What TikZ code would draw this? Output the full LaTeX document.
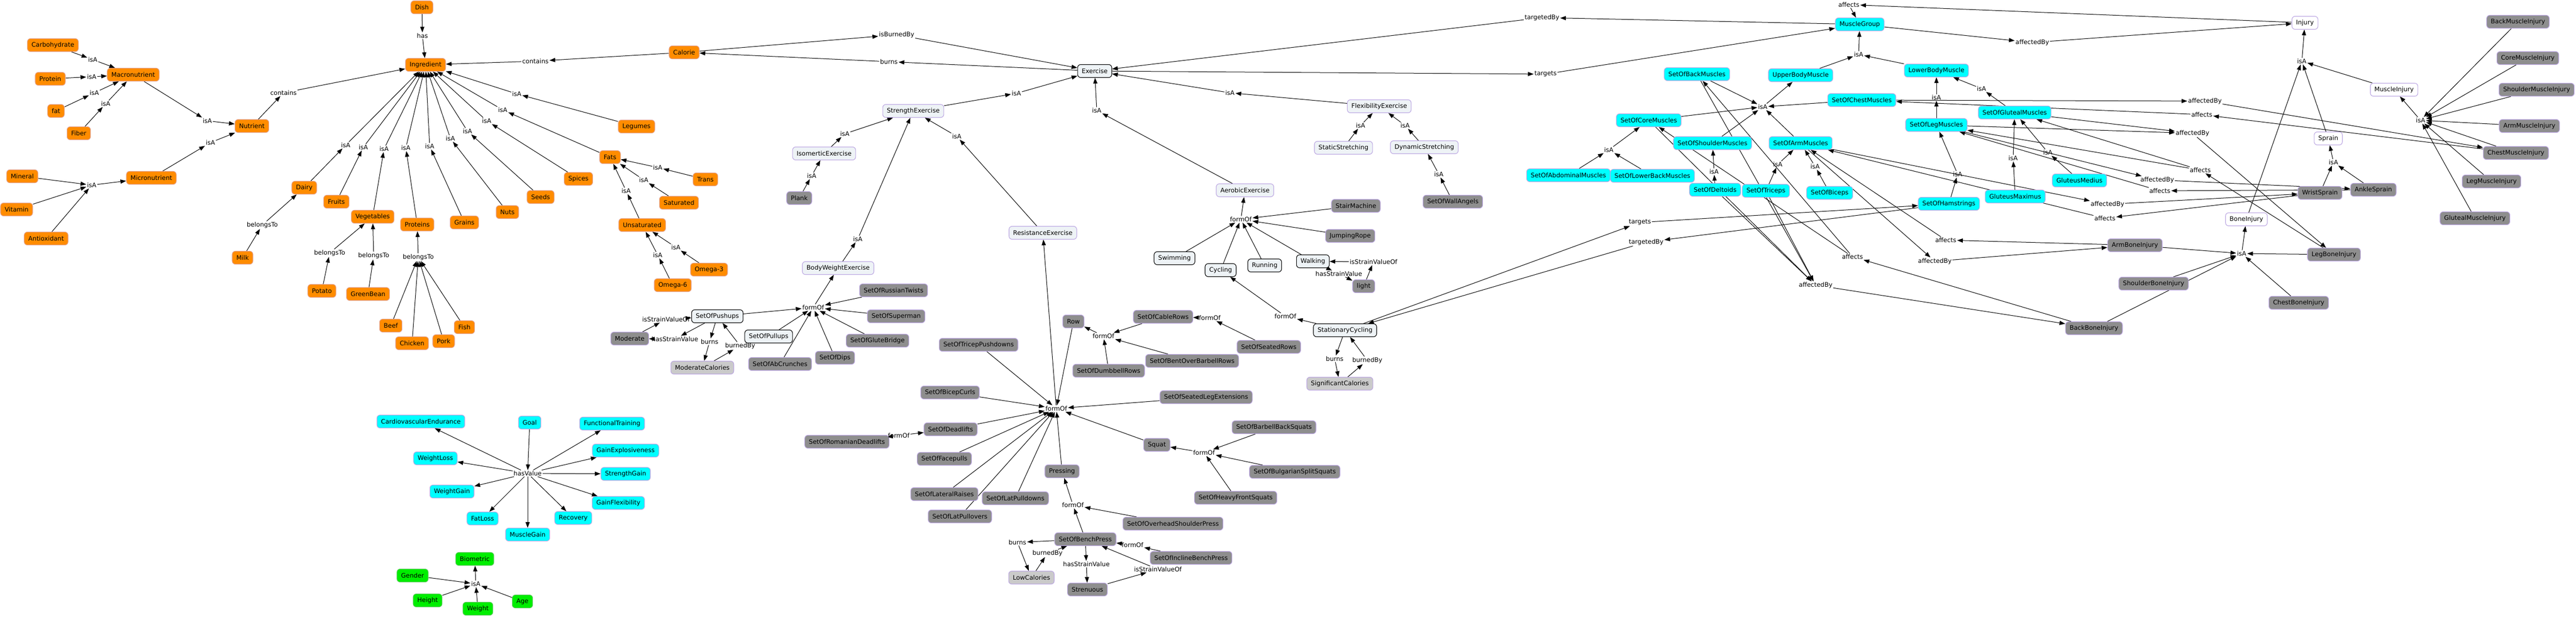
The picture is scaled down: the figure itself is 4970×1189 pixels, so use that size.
\documentclass[tikz,border=0pt]{standalone}
\usepackage{fontspec}
\setmainfont{DejaVu Sans}
\usetikzlibrary{arrows.meta}
\pgfdeclarelayer{paper}
\pgfdeclarelayer{bg}
\pgfsetlayers{paper,bg,main}
\definecolor{foodc}{HTML}{FF8C00}
\definecolor{foodb}{HTML}{E3A08C}
\definecolor{cyanc}{HTML}{00FFFF}
\definecolor{purb}{HTML}{BBA6E2}
\definecolor{greenc}{HTML}{00EE00}
\definecolor{greenb}{HTML}{5CC85C}
\definecolor{grayc}{HTML}{8E8E8E}
\definecolor{lgrayc}{HTML}{CACACA}
\definecolor{classc}{HTML}{EEF3F6}
\tikzset{
 box/.style={rounded corners=6pt, draw, line width=1.1pt, minimum height=25pt, inner xsep=8pt, inner ysep=3pt, font=\fontsize{12}{14}\selectfont, text=black},
 food/.style={box, fill=foodc, draw=foodb},
 cy/.style={box, fill=cyanc, draw=purb},
 gr/.style={box, fill=greenc, draw=greenb},
 gy/.style={box, fill=grayc, draw=purb},
 lg/.style={box, fill=lgrayc, draw=purb},
 cl/.style={box, fill=classc, draw=purb},
 cb/.style={box, fill=classc, draw=black},
 wh/.style={box, fill=white, draw=purb},
 lbl/.style={inner sep=1.5pt, font=\fontsize{12}{14}\selectfont},
 arr/.style={-{Triangle[length=11pt,width=8pt]}, line width=1pt}
}
\newcommand\myE[2]{\draw[arr] (#1) -- (#2);}
\newcommand\myR[3]{\draw[arr] (#1) -- (#2);\draw[arr] (#2) -- (#3);}
\begin{document}
\begin{tikzpicture}[x=1pt,y=-1pt]
\begin{pgfonlayer}{paper}
\fill[white] (0,0) rectangle (4970,1189);
\end{pgfonlayer}
\useasboundingbox (0,0) rectangle (4970,1189);
% ---------- food ----------
\node[food] (carb) at (102,87) {Carbohydrate};
\node[food] (protein) at (97,152) {Protein};
\node[food] (macro) at (257,144) {Macronutrient};
\node[food] (fat) at (108,214) {fat};
\node[food] (fiber) at (152,257) {Fiber};
\node[food] (nutrient) at (486,243) {Nutrient};
\node[food] (mineral) at (43,340) {Mineral};
\node[food] (vitamin) at (32,404) {Vitamin};
\node[food] (antiox) at (89,460) {Antioxidant};
\node[food] (micro) at (292,343) {Micronutrient};
\node[food] (dish) at (814,14) {Dish};
\node[food] (ingredient) at (821,125) {Ingredient};
\node[food] (calorie) at (1320,101) {Calorie};
\node[food] (legumes) at (1228,244) {Legumes};
\node[food] (fats) at (1177,303) {Fats};
\node[food] (spices) at (1116,345) {Spices};
\node[food] (seeds) at (1043,380) {Seeds};
\node[food] (nuts) at (979,409) {Nuts};
\node[food] (grains) at (896,429) {Grains};
\node[food] (proteins) at (805,433) {Proteins};
\node[food] (vegetables) at (719,418) {Vegetables};
\node[food] (fruits) at (649,389) {Fruits};
\node[food] (dairy) at (587,362) {Dairy};
\node[food] (milk) at (468,497) {Milk};
\node[food] (potato) at (621,561) {Potato};
\node[food] (greenbean) at (710,567) {GreenBean};
\node[food] (beef) at (754,628) {Beef};
\node[food] (chicken) at (795,662) {Chicken};
\node[food] (pork) at (856,658) {Pork};
\node[food] (fish) at (896,631) {Fish};
\node[food] (trans) at (1361,346) {Trans};
\node[food] (saturated) at (1310,391) {Saturated};
\node[food] (unsaturated) at (1239,434) {Unsaturated};
\node[food] (omega3) at (1368,520) {Omega-3};
\node[food] (omega6) at (1298,550) {Omega-6};
\node[lbl] (lcarb) at (179,115) {isA};
\node[lbl] (lprot) at (177,148) {isA};
\node[lbl] (lfat) at (182,179) {isA};
\node[lbl] (lfiber) at (204,200) {isA};
\node[lbl] (lmacro) at (400,233) {isA};
\node[lbl] (lmicro) at (406,275) {isA};
\node[lbl] (lmin) at (177,357) {isA};
\node[lbl] (lcontN) at (547,179) {contains};
\node[lbl] (lhas) at (815,69) {has};
\node[lbl] (lcontC) at (1033,118) {contains};
\node[lbl] (ldairy) at (667,280) {isA};
\node[lbl] (lfruits) at (701,284) {isA};
\node[lbl] (lveg) at (741,287) {isA};
\node[lbl] (lprots) at (783,285) {isA};
\node[lbl] (lgrains) at (829,282) {isA};
\node[lbl] (lnuts) at (869,267) {isA};
\node[lbl] (lseeds) at (902,253) {isA};
\node[lbl] (lspices) at (939,233) {isA};
\node[lbl] (lfats) at (970,212) {isA};
\node[lbl] (llegumes) at (997,181) {isA};
\node[lbl] (lmilk) at (506,434) {belongsTo};
\node[lbl] (lpot) at (636,488) {belongsTo};
\node[lbl] (lgb) at (721,493) {belongsTo};
\node[lbl] (lmeat) at (807,496) {belongsTo};
\node[lbl] (ltrans) at (1269,323) {isA};
\node[lbl] (lsat) at (1242,347) {isA};
\node[lbl] (lunsat) at (1208,368) {isA};
\node[lbl] (lo3) at (1304,477) {isA};
\node[lbl] (lo6) at (1269,492) {isA};
% ---------- goals / biometrics ----------
\node[cy] (goal) at (1022,815) {Goal};
\node[cy] (cardio) at (812,813) {CardiovascularEndurance};
\node[cy] (functional) at (1181,817) {FunctionalTraining};
\node[cy] (weightloss) at (840,884) {WeightLoss};
\node[cy] (gainexp) at (1207,869) {GainExplosiveness};
\node[cy] (strengthgain) at (1207,914) {StrengthGain};
\node[cy] (weightgain) at (872,948) {WeightGain};
\node[cy] (gainflex) at (1193,970) {GainFlexibility};
\node[cy] (fatloss) at (931,1000) {FatLoss};
\node[cy] (recovery) at (1106,999) {Recovery};
\node[cy] (musclegain) at (1018,1031) {MuscleGain};
\node[lbl] (lhv) at (1018,913) {hasValue};
\node[gr] (biometric) at (916,1078) {Biometric};
\node[gr] (gender) at (796,1110) {Gender};
\node[gr] (height) at (825,1158) {Height};
\node[gr] (weight) at (922,1174) {Weight};
\node[gr] (age) at (1008,1160) {Age};
\node[lbl] (lbio) at (918,1126) {isA};
% ---------- exercise ----------
\node[cb] (exercise) at (2112,137) {Exercise};
\node[cl] (strength) at (1762,214) {StrengthExercise};
\node[cl] (iso) at (1590,296) {IsomerticExercise};
\node[gy] (plank) at (1542,382) {Plank};
\node[cl] (bwe) at (1617,517) {BodyWeightExercise};
\node[cl] (resistance) at (2012,449) {ResistanceExercise};
\node[cl] (aerobic) at (2402,367) {AerobicExercise};
\node[cl] (flex) at (2661,205) {FlexibilityExercise};
\node[cl] (static) at (2592,285) {StaticStretching};
\node[cl] (dynamic) at (2748,284) {DynamicStretching};
\node[gy] (wallangels) at (2803,389) {SetOfWallAngels};
\node[cb] (swimming) at (2266,498) {Swimming};
\node[cb] (cycling) at (2355,521) {Cycling};
\node[cb] (running) at (2440,512) {Running};
\node[cb] (walking) at (2533,504) {Walking};
\node[gy] (stair) at (2616,397) {StairMachine};
\node[gy] (jumping) at (2605,455) {JumpingRope};
\node[gy] (light) at (2631,552) {light};
\node[cb] (stationary) at (2595,637) {StationaryCycling};
\node[lg] (sigcal) at (2585,740) {SignificantCalories};
\node[cb] (pushups) at (1384,610) {SetOfPushups};
\node[gy] (moderate) at (1215,653) {Moderate};
\node[lg] (modcal) at (1355,709) {ModerateCalories};
\node[cb] (pullups) at (1483,649) {SetOfPullups};
\node[gy] (abcrunch) at (1505,702) {SetOfAbCrunches};
\node[gy] (dips) at (1611,690) {SetOfDips};
\node[gy] (glute) at (1693,657) {SetOfGluteBridge};
\node[gy] (superman) at (1729,610) {SetOfSuperman};
\node[gy] (russian) at (1724,560) {SetOfRussianTwists};
\node[gy] (tricep) at (1888,665) {SetOfTricepPushdowns};
\node[gy] (row) at (2071,620) {Row};
\node[gy] (cablerows) at (2244,611) {SetOfCableRows};
\node[gy] (seatedrows) at (2448,669) {SetOfSeatedRows};
\node[gy] (bentover) at (2300,696) {SetOfBentOverBarbellRows};
\node[gy] (dumbbell) at (2139,715) {SetOfDumbbellRows};
\node[gy] (bicep) at (1833,757) {SetOfBicepCurls};
\node[gy] (legext) at (2327,766) {SetOfSeatedLegExtensions};
\node[gy] (deadlifts) at (1834,828) {SetOfDeadlifts};
\node[gy] (romanian) at (1634,852) {SetOfRomanianDeadlifts};
\node[gy] (facepulls) at (1822,885) {SetOfFacepulls};
\node[gy] (squat) at (2232,858) {Squat};
\node[gy] (barbellsq) at (2458,824) {SetOfBarbellBackSquats};
\node[gy] (bulgarian) at (2498,910) {SetOfBulgarianSplitSquats};
\node[gy] (heavyfront) at (2384,960) {SetOfHeavyFrontSquats};
\node[gy] (pressing) at (2049,909) {Pressing};
\node[gy] (lateral) at (1822,953) {SetOfLateralRaises};
\node[gy] (latpulldowns) at (1959,961) {SetOfLatPulldowns};
\node[gy] (latpullovers) at (1852,996) {SetOfLatPullovers};
\node[gy] (overhead) at (2263,1010) {SetOfOverheadShoulderPress};
\node[gy] (bench) at (2094,1040) {SetOfBenchPress};
\node[gy] (incline) at (2298,1076) {SetOfInclineBenchPress};
\node[lg] (lowcal) at (1990,1114) {LowCalories};
\node[gy] (strenuous) at (2098,1137) {Strenuous};
\node[lbl] (lburnsEx) at (1715,119) {burns};
\node[lbl] (lisburned) at (1730,67) {isBurnedBy};
\node[lbl] (lstrEx) at (1961,180) {isA};
\node[lbl] (laerEx) at (2116,213) {isA};
\node[lbl] (lflexEx) at (2373,179) {isA};
\node[lbl] (liso) at (1630,258) {isA};
\node[lbl] (lplank) at (1566,339) {isA};
\node[lbl] (lbwe) at (1655,461) {isA};
\node[lbl] (lres) at (1846,263) {isA};
\node[lbl] (lbwhub) at (1569,593) {formOf};
\node[lbl] (lbighub) at (2038,788) {formOf};
\node[lbl] (laerhub) at (2394,423) {formOf};
\node[lbl] (lstatic) at (2625,242) {isA};
\node[lbl] (ldyn) at (2711,242) {isA};
\node[lbl] (lwall) at (2776,336) {isA};
\node[lbl] (lwalkHSV) at (2583,528) {hasStrainValue};
\node[lbl] (lwalkISV) at (2650,505) {isStrainValueOf};
\node[lbl] (lstatForm) at (2480,610) {formOf};
\node[lbl] (lstatBurns) at (2575,692) {burns};
\node[lbl] (lstatBurned) at (2638,695) {burnedBy};
\node[lbl] (lstatTargets) at (3164,429) {targets};
\node[lbl] (lstatTargetedBy) at (3176,467) {targetedBy};
\node[lbl] (lpushISV) at (1285,616) {isStrainValueOf};
\node[lbl] (lpushHSV) at (1302,654) {hasStrainValue};
\node[lbl] (lpushBurns) at (1369,659) {burns};
\node[lbl] (lpushBurned) at (1428,667) {burnedBy};
\node[lbl] (lrowhub) at (2129,648) {formOf};
\node[lbl] (lcableForm) at (2334,613) {formOf};
\node[lbl] (lromForm) at (1734,840) {formOf};
\node[lbl] (lsquathub) at (2323,873) {formOf};
\node[lbl] (lpresshub) at (2070,974) {formOf};
\node[lbl] (lbenchBurns) at (1963,1046) {burns};
\node[lbl] (lbenchBurned) at (2021,1067) {burnedBy};
\node[lbl] (linclineForm) at (2185,1051) {formOf};
\node[lbl] (lbenchHSV) at (2096,1088) {hasStrainValue};
\node[lbl] (lbenchISV) at (2234,1098) {isStrainValueOf};
\node[lbl] (lexTargets) at (2982,143) {targets};
\node[lbl] (lexTargetedBy) at (2975,34) {targetedBy};
% ---------- muscles ----------
\node[cy] (musclegroup) at (3588,47) {MuscleGroup};
\node[cy] (upper) at (3474,145) {UpperBodyMuscle};
\node[cy] (lower) at (3736,136) {LowerBodyMuscle};
\node[cy] (back) at (3274,143) {SetOfBackMuscles};
\node[cy] (chest) at (3592,193) {SetOfChestMuscles};
\node[cy] (gluteal) at (3887,217) {SetOfGlutealMuscles};
\node[cy] (core) at (3181,232) {SetOfCoreMuscles};
\node[cy] (leg) at (3736,241) {SetOfLegMuscles};
\node[cy] (shoulder) at (3304,276) {SetOfShoulderMuscles};
\node[cy] (arm) at (3474,276) {SetOfArmMuscles};
\node[cy] (abdominal) at (3026,338) {SetOfAbdominalMuscles};
\node[cy] (lowerback) at (3188,339) {SetOfLowerBackMuscles};
\node[cy] (deltoids) at (3309,366) {SetOfDeltoids};
\node[cy] (triceps) at (3407,368) {SetOfTriceps};
\node[cy] (biceps) at (3530,372) {SetOfBiceps};
\node[cy] (hamstrings) at (3760,393) {SetOfHamstrings};
\node[cy] (gmax) at (3888,379) {GluteusMaximus};
\node[cy] (gmed) at (4012,348) {GluteusMedius};
\node[lbl] (lmgAffects) at (3567,9) {affects};
\node[lbl] (lmgAffectedBy) at (3921,82) {affectedBy};
\node[lbl] (lmgIsA) at (3586,105) {isA};
\node[lbl] (lupperIsA) at (3401,206) {isA};
\node[lbl] (llegIsA) at (3736,188) {isA};
\node[lbl] (lglutIsA) at (3823,171) {isA};
\node[lbl] (lcoreIsA) at (3104,289) {isA};
\node[lbl] (ldeltIsA) at (3307,331) {isA};
\node[lbl] (ltriIsA) at (3430,317) {isA};
\node[lbl] (lbiIsA) at (3502,321) {isA};
\node[lbl] (lhamIsA) at (3777,336) {isA};
\node[lbl] (lgmaxIsA) at (3884,305) {isA};
\node[lbl] (lgmedIsA) at (3951,294) {isA};
% ---------- injuries ----------
\node[wh] (injury) at (4447,44) {Injury};
\node[wh] (muscleinj) at (4619,173) {MuscleInjury};
\node[wh] (sprain) at (4492,267) {Sprain};
\node[wh] (boneinj) at (4334,423) {BoneInjury};
\node[gy] (wrist) at (4476,372) {WristSprain};
\node[gy] (ankle) at (4579,366) {AnkleSprain};
\node[gy] (armbone) at (4119,473) {ArmBoneInjury};
\node[gy] (legbone) at (4503,491) {LegBoneInjury};
\node[gy] (shoulderbone) at (4155,547) {ShoulderBoneInjury};
\node[gy] (chestbone) at (4435,584) {ChestBoneInjury};
\node[gy] (backbone) at (4040,633) {BackBoneInjury};
\node[gy] (backmi) at (4858,42) {BackMuscleInjury};
\node[gy] (coremi) at (4877,112) {CoreMuscleInjury};
\node[gy] (shouldermi) at (4894,173) {ShoulderMuscleInjury};
\node[gy] (armmi) at (4880,243) {ArmMuscleInjury};
\node[gy] (chestmi) at (4854,295) {ChestMuscleInjury};
\node[gy] (legmi) at (4807,350) {LegMuscleInjury};
\node[gy] (glutealmi) at (4775,421) {GlutealMuscleInjury};
\node[lbl] (lchestAffBy) at (4254,195) {affectedBy};
\node[lbl] (lchestAff) at (4248,221) {affects};
\node[lbl] (llegboneAffBy) at (4230,257) {affectedBy};
\node[lbl] (llegboneAff) at (4245,328) {affects};
\node[lbl] (lankleAffBy) at (4162,347) {affectedBy};
\node[lbl] (lankleAff) at (4167,368) {affects};
\node[lbl] (lwristAffBy) at (4066,394) {affectedBy};
\node[lbl] (lwristAff) at (4061,421) {affects};
\node[lbl] (larmboneAff) at (3754,463) {affects};
\node[lbl] (larmboneAffBy) at (3733,504) {affectedBy};
\node[lbl] (lbackboneAff) at (3574,495) {affects};
\node[lbl] (lbackboneAffBy) at (3503,550) {affectedBy};
\node[lbl] (linjIsA) at (4441,118) {isA};
\node[lbl] (lsprainIsA) at (4502,313) {isA};
\node[lbl] (lboneIsA) at (4325,489) {isA};
\node[lbl] (lmInjIsA) at (4670,232) {isA};
% ================= edges =================
\begin{pgfonlayer}{bg}
\myR{carb}{lcarb}{macro}
\myR{protein}{lprot}{macro}
\myR{fat}{lfat}{macro}
\myR{fiber}{lfiber}{macro}
\myR{macro}{lmacro}{nutrient}
\myR{micro}{lmicro}{nutrient}
\foreach \s in {mineral,vitamin,antiox} {\myE{\s}{lmin}}
\myE{lmin}{micro}
\myR{nutrient}{lcontN}{ingredient}
\myR{dish}{lhas}{ingredient}
\myR{calorie}{lcontC}{ingredient}
\myR{dairy}{ldairy}{ingredient}
\myR{fruits}{lfruits}{ingredient}
\myR{vegetables}{lveg}{ingredient}
\myR{proteins}{lprots}{ingredient}
\myR{grains}{lgrains}{ingredient}
\myR{nuts}{lnuts}{ingredient}
\myR{seeds}{lseeds}{ingredient}
\myR{spices}{lspices}{ingredient}
\myR{fats}{lfats}{ingredient}
\myR{legumes}{llegumes}{ingredient}
\myR{milk}{lmilk}{dairy}
\myR{potato}{lpot}{vegetables}
\myR{greenbean}{lgb}{vegetables}
\foreach \s in {beef,chicken,pork,fish} {\myE{\s}{lmeat}}
\myE{lmeat}{proteins}
\myR{trans}{ltrans}{fats}
\myR{saturated}{lsat}{fats}
\myR{unsaturated}{lunsat}{fats}
\myR{omega3}{lo3}{unsaturated}
\myR{omega6}{lo6}{unsaturated}
\myE{goal}{lhv}
\foreach \t in {cardio,functional,weightloss,gainexp,strengthgain,weightgain,gainflex,fatloss,recovery,musclegain} {\myE{lhv}{\t}}
\foreach \s in {gender,height,weight,age} {\myE{\s}{lbio}}
\myE{lbio}{biometric}
% exercise
\myR{exercise}{lburnsEx}{calorie}
\myR{calorie}{lisburned}{exercise}
\myR{strength}{lstrEx}{exercise}
\myR{aerobic}{laerEx}{exercise}
\myR{flex}{lflexEx}{exercise}
\myR{iso}{liso}{strength}
\myR{plank}{lplank}{iso}
\myR{bwe}{lbwe}{strength}
\myR{resistance}{lres}{strength}
\foreach \s in {pushups,pullups,abcrunch,dips,glute,superman,russian} {\myE{\s}{lbwhub}}
\myE{lbwhub}{bwe}
\foreach \s in {swimming,cycling,running,walking,stair,jumping} {\myE{\s}{laerhub}}
\myE{laerhub}{aerobic}
\myR{static}{lstatic}{flex}
\myR{dynamic}{ldyn}{flex}
\myR{wallangels}{lwall}{dynamic}
\myR{walking}{lwalkHSV}{light}
\myR{light}{lwalkISV}{walking}
\myR{stationary}{lstatForm}{cycling}
\myR{stationary}{lstatBurns}{sigcal}
\myR{sigcal}{lstatBurned}{stationary}
\myR{stationary}{lstatTargets}{hamstrings}
\myR{hamstrings}{lstatTargetedBy}{stationary}
\myR{pushups}{lpushHSV}{moderate}
\myR{moderate}{lpushISV}{pushups}
\myR{pushups}{lpushBurns}{modcal}
\myR{modcal}{lpushBurned}{pushups}
\foreach \s in {tricep,row,bicep,legext,deadlifts,facepulls,squat,lateral,latpullovers,latpulldowns,pressing} {\myE{\s}{lbighub}}
\myE{lbighub}{resistance}
\foreach \s in {cablerows,dumbbell,bentover} {\myE{\s}{lrowhub}}
\myE{lrowhub}{row}
\myR{seatedrows}{lcableForm}{cablerows}
\myR{romanian}{lromForm}{deadlifts}
\foreach \s in {barbellsq,bulgarian,heavyfront} {\myE{\s}{lsquathub}}
\myE{lsquathub}{squat}
\foreach \s in {overhead,bench} {\myE{\s}{lpresshub}}
\myE{lpresshub}{pressing}
\myR{bench}{lbenchBurns}{lowcal}
\myR{lowcal}{lbenchBurned}{bench}
\myR{incline}{linclineForm}{bench}
\myR{bench}{lbenchHSV}{strenuous}
\myR{strenuous}{lbenchISV}{bench}
\myR{exercise}{lexTargets}{musclegroup}
\myR{musclegroup}{lexTargetedBy}{exercise}
% muscles
\myR{injury}{lmgAffects}{musclegroup}
\myR{musclegroup}{lmgAffectedBy}{injury}
\foreach \s in {upper,lower} {\myE{\s}{lmgIsA}}
\myE{lmgIsA}{musclegroup}
\foreach \s in {back,chest,core,shoulder,arm} {\myE{\s}{lupperIsA}}
\myE{lupperIsA}{upper}
\myR{leg}{llegIsA}{lower}
\myR{gluteal}{lglutIsA}{lower}
\foreach \s in {abdominal,lowerback} {\myE{\s}{lcoreIsA}}
\myE{lcoreIsA}{core}
\myR{deltoids}{ldeltIsA}{shoulder}
\myR{triceps}{ltriIsA}{arm}
\myR{biceps}{lbiIsA}{arm}
\myR{hamstrings}{lhamIsA}{leg}
\myR{gmax}{lgmaxIsA}{gluteal}
\myR{gmed}{lgmedIsA}{gluteal}
% injuries
\myR{chest}{lchestAffBy}{chestmi}
\myR{chestmi}{lchestAff}{chest}
\foreach \s in {leg,gluteal} {\myE{\s}{llegboneAffBy}}
\myE{llegboneAffBy}{legbone}
\myE{legbone}{llegboneAff}
\foreach \t in {leg,gluteal} {\myE{llegboneAff}{\t}}
\myR{leg}{lankleAffBy}{ankle}
\myR{ankle}{lankleAff}{leg}
\myR{arm}{lwristAffBy}{wrist}
\myR{wrist}{lwristAff}{arm}
\myR{armbone}{larmboneAff}{arm}
\myR{arm}{larmboneAffBy}{armbone}
\myE{backbone}{lbackboneAff}
\foreach \t in {back,core} {\myE{lbackboneAff}{\t}}
\foreach \s in {back,core,deltoids,triceps} {\myE{\s}{lbackboneAffBy}}
\myE{lbackboneAffBy}{backbone}
\foreach \s in {armbone,legbone,shoulderbone,chestbone,backbone} {\myE{\s}{lboneIsA}}
\myE{lboneIsA}{boneinj}
\foreach \s in {wrist,ankle} {\myE{\s}{lsprainIsA}}
\myE{lsprainIsA}{sprain}
\foreach \s in {boneinj,sprain,muscleinj} {\myE{\s}{linjIsA}}
\myE{linjIsA}{injury}
\foreach \s in {backmi,coremi,shouldermi,armmi,chestmi,legmi,glutealmi} {\myE{\s}{lmInjIsA}}
\myE{lmInjIsA}{muscleinj}
\end{pgfonlayer}
\end{tikzpicture}
\end{document}
